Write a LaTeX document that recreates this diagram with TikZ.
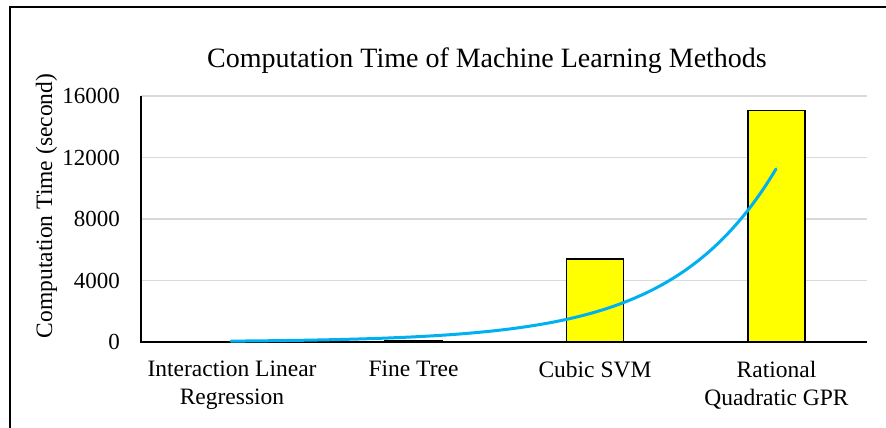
\documentclass[tikz,border=0pt]{standalone}
\usepackage{fontspec}
\setmainfont{Liberation Serif}
\definecolor{trendblue}{HTML}{00B0F0}
\definecolor{gridgray}{HTML}{D9D9D9}
\definecolor{baryellow}{HTML}{FFFF00}
\tikzset{
  gridline/.style={draw=gridgray, line width=1.6pt},
  axisline/.style={draw=black, line width=1.4pt},
  barbox/.style={draw=black, fill=baryellow, line width=1.4pt},
  trendline/.style={draw=trendblue, line width=3pt, line cap=round},
  ticklabel/.style={anchor=east, inner sep=0pt, font=\fontsize{23}{27}\selectfont},
  catlabel/.style={anchor=north, inner sep=0pt, align=center, font=\fontsize{23.5}{28}\selectfont},
  titlelabel/.style={anchor=base, inner sep=0pt, font=\fontsize{28}{32}\selectfont},
  axistitle/.style={anchor=base, inner sep=0pt, rotate=90, font=\fontsize{23.5}{28}\selectfont}
}
\begin{document}
\begin{tikzpicture}[x=1pt,y=-1pt]
\useasboundingbox (0,0) rectangle (886,428);
% outer frame
\draw[line width=1.6pt] (10,440) -- (10,7) -- (900,7);
% title
\node[titlelabel] (title) at (487,67) {Computation Time of Machine Learning Methods};
% grid lines
\foreach \yy in {96,157.5,219,280.5} {
  \draw[gridline] (141,\yy) -- (867,\yy);
}
% tick labels
\node[ticklabel] (t0) at (120,342) {0};
\node[ticklabel] (t1) at (120,280.5) {4000};
\node[ticklabel] (t2) at (120,219) {8000};
\node[ticklabel] (t3) at (120,157.5) {12000};
\node[ticklabel] (t4) at (120,96) {16000};
% axis title
\node[axistitle] (ytitle) at (52,206) {Computation Time (second)};
% bars
\draw[barbox] (203.5,342) rectangle (260.5,341.4);
\draw[barbox] (385,342) rectangle (442,341);
\draw[barbox] (566.5,342) rectangle (623.5,259);
\draw[barbox] (748,342) rectangle (805,110.7);
% axes
\draw[axisline] (141,96) -- (141,342) -- (867,342);
% category labels
\node[catlabel] (c1) at (232,361) {Interaction Linear\\Regression};
\node[catlabel] (c2) at (413.5,361) {Fine Tree};
\node[catlabel] (c3) at (595,361) {Cubic SVM};
\node[catlabel] (c4) at (776.5,361) {Rational\\Quadratic GPR};
% exponential trend line
\draw[trendline] plot[domain=231:776, samples=90, variable=\t, smooth]
  (\t, {342-173*exp(-0.0097*(776-\t))});
\end{tikzpicture}
\end{document}
